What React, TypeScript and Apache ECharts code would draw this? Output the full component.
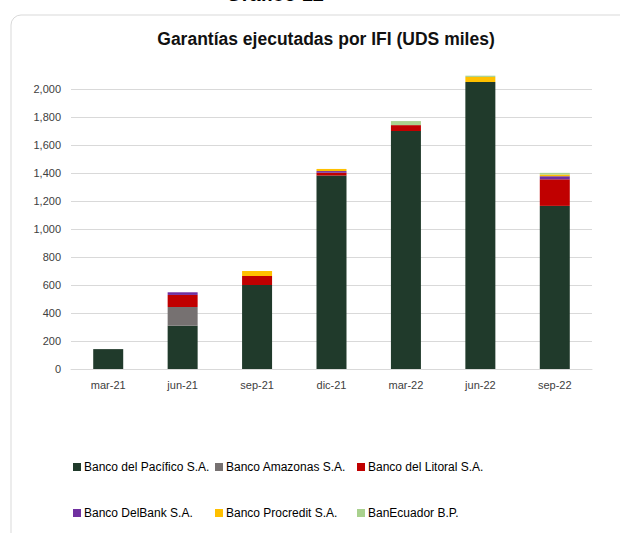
import React, { useEffect, useRef } from "react";
import * as echarts from "echarts";

const categories = ["mar-21", "jun-21", "sep-21", "dic-21", "mar-22", "jun-22", "sep-22"];
const seriesNames = [
  "Banco del Pacífico S.A.",
  "Banco Amazonas S.A.",
  "Banco del Litoral S.A.",
  "Banco DelBank S.A.",
  "Banco Procredit S.A.",
  "BanEcuador B.P.",
];
const pacifico = [142, 309, 600, 1382, 1700, 2050, 1165];
const amazonas = [0, 134, 0, 0, 0, 0, 0];
const litoral = [0, 86, 64, 20, 42, 0, 190];
const delbank = [0, 19, 0, 12, 0, 0, 22];
const procredit = [0, 0, 36, 15, 0, 36, 12];
const banecuador = [0, 0, 0, 0, 29, 9, 12];
const yTicks = [0, 200, 400, 600, 800, 1000, 1200, 1400, 1600, 1800, 2000];

const colors = ["#203a2b", "#767171", "#c00000", "#7030a0", "#ffc000", "#a9d18e"];
const values = [pacifico, amazonas, litoral, delbank, procredit, banecuador];

const legendPos = [
  [73, 461], [215, 461], [357, 461],
  [73, 507], [215, 507], [357, 507],
];

export default function App() {
  const ref = useRef<HTMLDivElement>(null);
  useEffect(() => {
    if (!ref.current) return;
    const chart = echarts.init(ref.current, null, { renderer: "svg" });
    const font = "'Liberation Sans', Arial, sans-serif";
    chart.setOption({
      animation: false,
      backgroundColor: "#ffffff",
      textStyle: { fontFamily: font },
      title: {
        text: "Garantías ejecutadas por IFI (UDS miles)",
        left: 321,
        textAlign: "center",
        top: 25,
        textStyle: { fontSize: 17.5, fontWeight: "bold", color: "#111", fontFamily: font },
      },
      graphic: [
        {
          type: "rect",
          shape: { x: 11, y: 15, width: 640, height: 540, r: 10 },
          style: { fill: "none", stroke: "#d9d9d9", lineWidth: 1 },
          silent: true,
          z: -10,
        },
        {
          type: "text",
          x: 275,
          y: 4,
          style: {
            text: "Gráfico 12",
            fill: "#000",
            font: `bold 20px ${font}`,
            textAlign: "center",
            textVerticalAlign: "bottom",
          },
        },
      ],
      legend: seriesNames.map((n, i) => ({
        data: [n],
        left: legendPos[i][0],
        top: legendPos[i][1],
        padding: 0,
        icon: "rect",
        itemWidth: 8,
        itemHeight: 8,
        itemGap: 0,
        textStyle: { fontSize: 12, color: "#000", fontFamily: font, padding: [0, 0, 0, -2] },
        selectedMode: false,
      })),
      grid: { left: 71, right: 28, top: 89, bottom: 164 },
      xAxis: {
        type: "category",
        data: categories,
        axisLine: { show: true, lineStyle: { color: "#d9d9d9" } },
        axisTick: { show: false },
        axisLabel: { color: "#404040", fontSize: 11, margin: 10, fontFamily: font },
      },
      yAxis: {
        type: "value",
        min: yTicks[0],
        max: yTicks[yTicks.length - 1],
        interval: 200,
        axisLine: { show: false },
        axisTick: { show: false },
        splitLine: { lineStyle: { color: "#d9d9d9", width: 1 } },
        axisLabel: {
          color: "#404040",
          fontSize: 11,
          margin: 10,
          fontFamily: font,
          formatter: (v: number) => v.toLocaleString("en-US"),
        },
      },
      series: seriesNames.map((n, i) => ({
        name: n,
        type: "bar",
        stack: "total",
        barWidth: 30,
        clip: false,
        data: values[i],
        itemStyle: { color: colors[i] },
      })),
    });
    return () => chart.dispose();
  }, []);
  return (
    <div
      ref={ref}
      style={{ position: "fixed", left: 0, top: 0, width: 620, height: 533 }}
    />
  );
}
